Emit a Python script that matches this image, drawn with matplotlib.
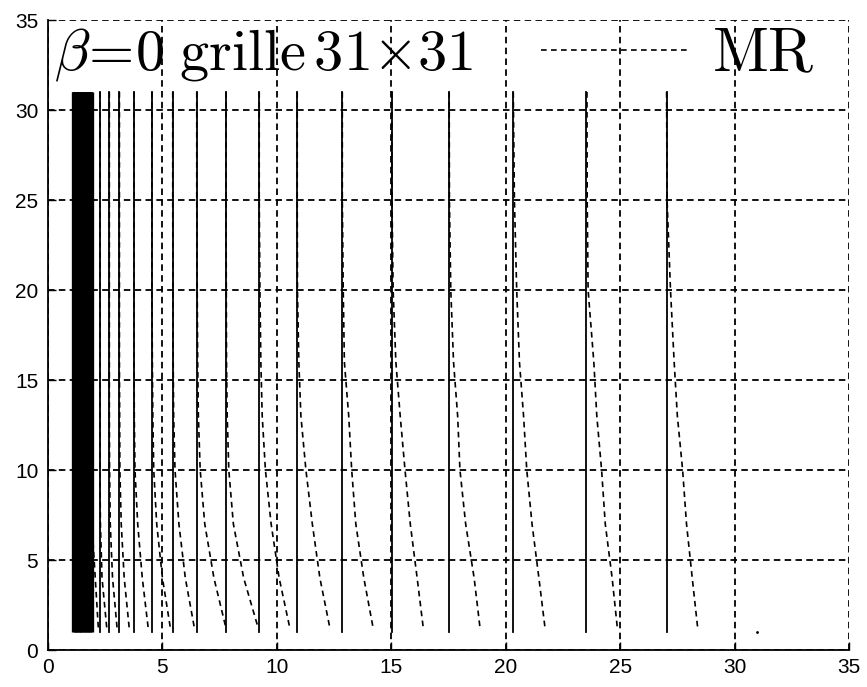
import matplotlib
matplotlib.use("Agg")
import matplotlib.pyplot as plt

plt.rcParams['mathtext.fontset'] = 'cm'
plt.rcParams['font.family'] = ['Liberation Sans', 'DejaVu Sans']

# ---- data ----
# dense mesh lines (black block near x = 1..2)
block_x = [1.10, 1.16, 1.22, 1.28, 1.34, 1.40, 1.46, 1.52, 1.58, 1.64, 1.70, 1.77, 1.84, 1.92]
# visible mesh lines (solid)
mesh_x = [2.27, 2.68, 3.12, 3.76, 4.54, 5.45, 6.50, 7.78, 9.23, 10.89,
          12.86, 15.02, 17.53, 20.33, 23.52, 27.03]
mesh_y = [1.0, 31.0]

# MR lines: x at each y level, one row per visible mesh line
mr_y = [31, 25, 20, 16, 13, 10, 7, 4, 1.2]
mr_x = [
    [2.27, 2.27, 2.27, 2.27, 2.27, 2.27, 2.29, 2.36, 2.57],
    [2.68, 2.68, 2.68, 2.68, 2.68, 2.69, 2.72, 2.82, 3.02],
    [3.12, 3.12, 3.12, 3.12, 3.13, 3.14, 3.20, 3.33, 3.55],
    [3.76, 3.76, 3.76, 3.76, 3.77, 3.80, 3.92, 4.12, 4.38],
    [4.54, 4.54, 4.54, 4.56, 4.58, 4.62, 4.75, 5.00, 5.35],
    [5.45, 5.45, 5.46, 5.47, 5.49, 5.55, 5.72, 6.00, 6.40],
    [6.50, 6.50, 6.52, 6.54, 6.57, 6.65, 6.85, 7.25, 7.78],
    [7.78, 7.78, 7.79, 7.80, 7.83, 7.90, 8.10, 8.55, 9.19],
    [9.23, 9.23, 9.26, 9.30, 9.36, 9.50, 9.75, 10.10, 10.57],
    [10.89, 10.89, 10.90, 10.96, 11.05, 11.27, 11.55, 11.88, 12.32],
    [12.86, 12.86, 12.90, 12.95, 13.14, 13.27, 13.45, 13.80, 14.21],
    [15.02, 15.03, 15.08, 15.20, 15.39, 15.60, 15.83, 16.13, 16.40],
    [17.53, 17.54, 17.60, 17.72, 17.90, 18.00, 18.25, 18.62, 18.88],
    [20.33, 20.38, 20.48, 20.60, 20.78, 20.92, 21.15, 21.45, 21.72],
    [23.55, 23.56, 23.60, 23.85, 23.98, 24.19, 24.35, 24.65, 24.88],
    [27.03, 27.05, 27.20, 27.36, 27.50, 27.73, 27.90, 28.15, 28.39],
]
# MR lines of the dense block: bottom x
block_mr_bottom = [1.16, 1.22, 1.28, 1.34, 1.40, 1.46, 1.52, 1.58, 1.64, 1.70, 1.77, 1.84, 1.92, 2.20]
last_node_x = [31.0]
last_node_y = [1.0]

ticks = [0, 5, 10, 15, 20, 25, 30, 35]
title_text = r'$\beta\!=\!0\;\mathrm{grille}\,31{\times}31$'
legend_label = r'$\mathrm{MR}$'

# ---- figure ----
fig = plt.figure(figsize=(8.67, 6.87), dpi=100)
ax = fig.add_axes([48/867, 37/687, 801/867, 630/687])

mr_style = dict(color='black', linestyle=(0, (3.4, 2.6)), linewidth=1.2)

for xb in block_x:
    ax.plot([xb, xb], mesh_y, color='black', linewidth=2.4, solid_capstyle='butt')
for xb, xe in zip(block_x, block_mr_bottom):
    ax.plot([xb, xb, xe], [mr_y[0], 7, mr_y[-1]], **mr_style)

for xm in mesh_x:
    ax.plot([xm, xm], mesh_y, color='black', linewidth=1.3)

mr_handle = None
for row in mr_x:
    mr_handle, = ax.plot(row, mr_y, **mr_style)

ax.plot(last_node_x, last_node_y, marker='.', markersize=2, color='black', linestyle='none')

ax.set_xlim(0, 35)
ax.set_ylim(0, 35)
ax.set_xticks(ticks)
ax.set_yticks(ticks)
ax.grid(True, color='black', linestyle=(0, (3.6, 2.4)), linewidth=1.3)
ax.set_axisbelow(True)
for s in ['top', 'right']:
    ax.spines[s].set_visible(False)
for s in ['left', 'bottom']:
    ax.spines[s].set_linewidth(1.3)
ax.tick_params(direction='in', length=6, width=1.0, labelsize=15, colors='black')
ax.tick_params(axis='x', pad=6)
ax.tick_params(axis='y', pad=7)

ax.text(0.008, 0.922, title_text, transform=ax.transAxes, fontsize=42,
        va='baseline', ha='left', color='black')

ax.legend([mr_handle], [legend_label], loc='center right',
          bbox_to_anchor=(815/867, 1 - 56/687), bbox_transform=fig.transFigure,
          frameon=False, fontsize=44, handlelength=2.45, handletextpad=0.35,
          borderpad=0, borderaxespad=0)

fig.savefig('out.png', dpi=100, facecolor='white')
